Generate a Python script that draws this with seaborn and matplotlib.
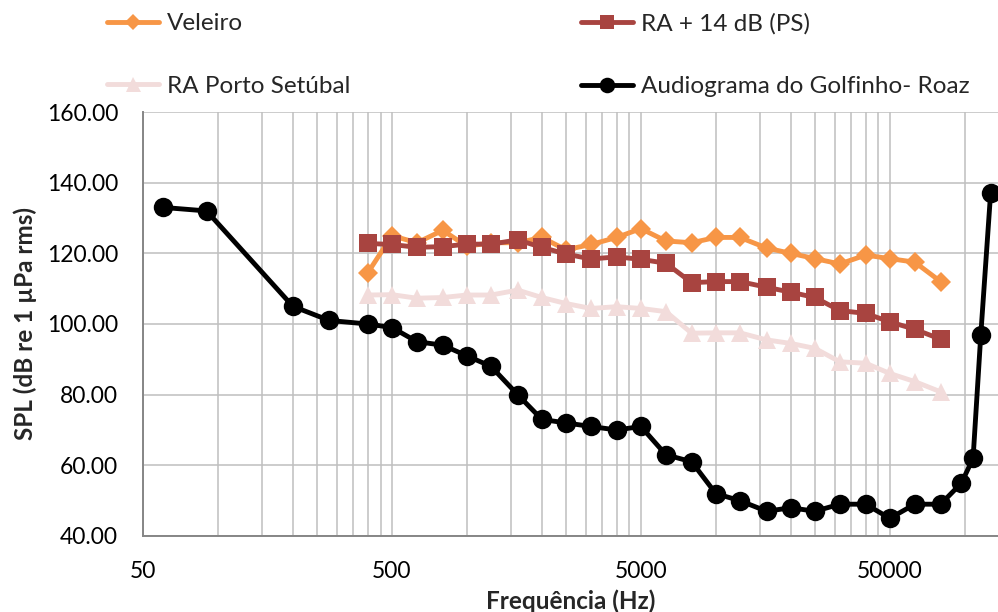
import numpy as np
import pandas as pd
import matplotlib
matplotlib.use("Agg")
import matplotlib.pyplot as plt
from matplotlib.ticker import FixedLocator, LogLocator, NullFormatter
import seaborn as sns

# ---------------- data ----------------
freq_audiogram = [60, 90, 200, 280, 400, 500, 630, 800, 1000, 1250, 1600, 2000, 2500,
                  3150, 4000, 5000, 6300, 8000, 10000, 12500, 16000, 20000, 25000,
                  31500, 40000, 50000, 63000, 80000, 97000, 108000, 116000, 127000]
spl_audiogram = [133, 132, 105, 101, 100, 99, 95, 94, 91, 88, 80, 73, 72, 71, 70, 71,
                 63, 61, 52, 50, 47, 48, 47, 49, 49, 45, 49, 49, 55, 62, 97, 137]

freq_bands = [400, 500, 630, 800, 1000, 1250, 1600, 2000, 2500, 3150, 4000, 5000,
              6300, 8000, 10000, 12500, 16000, 20000, 25000, 31500, 40000, 50000,
              63000, 80000]
spl_veleiro = [114.5, 125, 123, 126.5, 122, 123, 123, 124.5, 121, 122.5, 124.5, 127,
               123.5, 123, 124.5, 124.5, 121.5, 120, 118.5, 117, 119.5, 118.5, 117.5, 112]
spl_ra14 = [122.8, 122.5, 121.7, 121.9, 122.6, 122.6, 123.8, 121.7, 119.8, 118.4, 119,
            118.3, 117.2, 111.7, 112, 112, 110.4, 109, 107.5, 103.8, 103, 100.6, 98.5, 95.7]
spl_ra_porto = [108.2, 108.3, 107.3, 107.5, 108.2, 108.2, 109.6, 107.5, 105.8, 104.4,
                104.9, 104.4, 103.5, 97.4, 97.5, 97.5, 95.5, 94.5, 93.1, 89.3, 88.9,
                86, 83.7, 80.8]

series_names = ["Veleiro", "RA + 14 dB (PS)", "RA Porto Setúbal",
                "Audiograma do Golfinho- Roaz"]
x_ticks = [50, 500, 5000, 50000]
x_tick_labels = ["50", "500", "5000", "50000"]
y_ticks = [40, 60, 80, 100, 120, 140, 160]

# ---------------- style ----------------
sns.set_style("white")
plt.rcParams["font.family"] = ["Lato", "DejaVu Sans"]

FS = 16.5
FS_TXT = 17.5
grid_c = "#BFBFBF"
axis_c = "#868686"

fig = plt.figure(figsize=(9.98, 6.12), dpi=100)
ax = fig.add_axes([143 / 998, 1 - 536 / 612, (998 - 143) / 998, (536 - 112) / 612])

df_v = pd.DataFrame({"f": freq_bands, "spl": spl_veleiro})
df_r14 = pd.DataFrame({"f": freq_bands, "spl": spl_ra14})
df_rp = pd.DataFrame({"f": freq_bands, "spl": spl_ra_porto})
df_a = pd.DataFrame({"f": freq_audiogram, "spl": spl_audiogram})

common = dict(x="f", y="spl", ax=ax, linewidth=3.5, markeredgewidth=0, zorder=3)
sns.lineplot(data=df_v, color="#F79646", marker="D", markersize=10.5,
             label=series_names[0], **common)
sns.lineplot(data=df_r14, color="#A84440", marker="s", markersize=13,
             label=series_names[1], **common)
sns.lineplot(data=df_rp, color="#F2DCDB", marker="^", markersize=13.5,
             label=series_names[2], **common)
sns.lineplot(data=df_a, color="#000000", marker="o", markersize=14,
             label=series_names[3], **common)

ax.set_xscale("log")
ax.set_xlim(50, 136000)
ax.set_ylim(40, 160)

ax.xaxis.set_major_locator(FixedLocator(x_ticks))
ax.set_xticklabels(x_tick_labels)
ax.xaxis.set_minor_locator(LogLocator(base=10, subs=np.arange(1.0, 5.0, 0.5), numticks=30))
ax.xaxis.set_minor_formatter(NullFormatter())
ax.set_yticks(y_ticks)
ax.set_yticklabels([f"{v:.2f}" for v in y_ticks])

ax.grid(True, which="major", axis="both", color=grid_c, linewidth=1.1, zorder=0)
ax.grid(True, which="minor", axis="x", color=grid_c, linewidth=1.1, zorder=0)
ax.set_axisbelow(True)

for s in ["top", "right"]:
    ax.spines[s].set_visible(False)
for s in ["left", "bottom"]:
    ax.spines[s].set_color(axis_c)
    ax.spines[s].set_linewidth(1.4)

ax.tick_params(axis="both", which="major", direction="out", length=6, width=1.2,
               color=axis_c, labelsize=FS, labelcolor="#000000")
ax.tick_params(axis="x", which="major", pad=12)
ax.tick_params(axis="y", which="major", pad=12)
ax.tick_params(axis="x", which="minor", length=0)

ax.set_xlabel("Frequência (Hz)", fontsize=FS_TXT, fontweight="bold", labelpad=5)
ax.set_ylabel("SPL (dB re 1 µPa rms)", fontsize=FS_TXT, fontweight="bold", labelpad=7)

handles, labels = ax.get_legend_handles_labels()
if ax.get_legend() is not None:
    ax.get_legend().remove()
hmap = dict(zip(labels, handles))

leg_kw = dict(frameon=False, fontsize=FS_TXT, loc="upper left", borderpad=0,
              borderaxespad=0, handlelength=2.15, handletextpad=0.3,
              labelspacing=1.72, markerscale=0.8)
leg1 = fig.legend([hmap[series_names[0]], hmap[series_names[2]]],
                  [series_names[0], series_names[2]],
                  bbox_to_anchor=(107 / 998, 1 - 13 / 612), **leg_kw)
leg2 = fig.legend([hmap[series_names[1]], hmap[series_names[3]]],
                  [series_names[1], series_names[3]],
                  bbox_to_anchor=(581 / 998, 1 - 13 / 612), **leg_kw)

fig.savefig("out.png", dpi=100)
